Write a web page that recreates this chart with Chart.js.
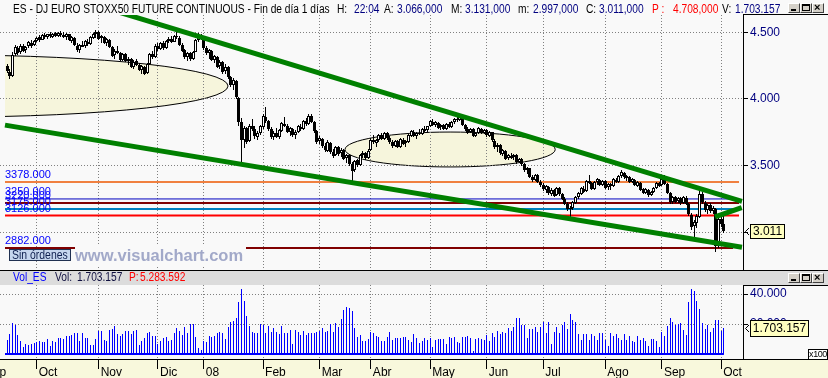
<!DOCTYPE html>
<html lang="es">
<head>
<meta charset="utf-8">
<title>ES - DJ EURO STOXX50 FUTURE CONTINUOUS</title>
<script src="https://cdn.jsdelivr.net/npm/chart.js@4.4.1/dist/chart.umd.min.js"></script>
<style>
  html, body { margin: 0; padding: 0; background: #f9f9f9; }
  #wrap { position: relative; width: 828px; height: 378px; overflow: hidden; background: #f9f9f9;
          font-family: "Liberation Sans", Arial, sans-serif; }
  #wrap canvas { position: absolute; left: 0; }
  .txt { position: absolute; font-size: 12px; line-height: 12px; white-space: nowrap;
         transform: scaleX(0.85); transform-origin: 0 0; color: #000; }
  .navy { color: #000080; }
  .red { color: #ff0000; }
  .blue { color: #0000ff; }
  .line { position: absolute; background: #000; }
  .btn { position: absolute; width: 10px; height: 8px; background: #d4d0c8;
         border: 1px solid; border-color: #ffffff #404040 #404040 #ffffff; }
  .btn i { position: absolute; display: block; }
</style>
</head>
<body>
<div id="wrap">
  <canvas id="price" width="828" height="255" style="top:15px"></canvas>
  <div style="position:absolute;left:0;top:359px;width:828px;height:18px;border-top:1px solid #000;background:#f8f8dc"></div>
  <canvas id="vol" width="828" height="93" style="top:285px"></canvas>

  <!-- cabecera -->
  <div class="txt" style="left:13px;top:3px">ES - DJ EURO STOXX50 FUTURE CONTINUOUS - Fin de día 1 días</div>
  <div class="txt" style="left:337px;top:3px">H:</div><div class="txt navy" style="left:354px;top:3px">22:04</div>
  <div class="txt" style="left:384px;top:3px">A:</div><div class="txt navy" style="left:397px;top:3px">3.066,000</div>
  <div class="txt" style="left:451px;top:3px">M:</div><div class="txt navy" style="left:465px;top:3px">3.131,000</div>
  <div class="txt" style="left:518px;top:3px">m:</div><div class="txt navy" style="left:533px;top:3px">2.997,000</div>
  <div class="txt" style="left:586px;top:3px">C:</div><div class="txt navy" style="left:599px;top:3px">3.011,000</div>
  <div class="txt red" style="left:652px;top:3px">P :</div><div class="txt red" style="left:673px;top:3px">4.708,000</div>
  <div class="txt" style="left:722px;top:3px">V:</div><div class="txt navy" style="left:735px;top:3px">1.703.157</div>

  <div class="btn" style="left:788px;top:3px"><i style="left:2px;top:5px;width:5px;height:2px;background:#000"></i></div>
  <div class="btn" style="left:800px;top:3px"><i style="left:1px;top:0;width:6px;height:4px;border:1px solid #000;border-top-width:2px"></i></div>
  <div class="btn" style="left:812px;top:3px"><i style="left:1px;top:-3px;font:bold 11px 'Liberation Sans';line-height:12px">×</i></div>

  <div class="line" style="left:743px;top:14px;width:85px;height:1px"></div>

  <!-- etiquetas del panel de precios -->
  <div style="position:absolute;left:9px;top:249px;width:60px;height:10px;border:1px solid #203050;background:#c6d6ee"></div>
  <div class="txt" style="left:12px;top:249px;color:#102050;transform:scaleX(0.87)">Sin órdenes</div>
  <div style="position:absolute;left:75px;top:246px;width:171px;height:19px;background:#f9f9f9;color:#a2a9c9;font-weight:bold;font-size:16.5px;line-height:19px;white-space:nowrap">www.visualchart.com</div>

  <!-- panel de volumen -->
  <div class="line" style="left:0;top:270px;width:828px;height:1px"></div>
  <div style="position:absolute;left:0;top:271px;width:828px;height:14px;background:#dcdcdc"></div>
  <div class="txt blue" style="left:13px;top:271px">Vol_ES</div>
  <div class="txt" style="left:55px;top:271px;color:#101040">Vol:</div>
  <div class="txt" style="left:77px;top:271px;color:#101040">1.703.157</div>
  <div class="txt red" style="left:129px;top:271px">P:</div>
  <div class="txt red" style="left:140px;top:271px">5.283.592</div>
  <div class="btn" style="left:788px;top:273px"><i style="left:2px;top:5px;width:5px;height:2px;background:#000"></i></div>
  <div class="btn" style="left:800px;top:273px"><i style="left:1px;top:0;width:6px;height:4px;border:1px solid #000;border-top-width:2px"></i></div>
  <div class="btn" style="left:812px;top:273px"><i style="left:1px;top:-3px;font:bold 11px 'Liberation Sans';line-height:12px">×</i></div>
  <div class="line" style="left:743px;top:285px;width:85px;height:1px"></div>
  <div style="position:absolute;left:808px;top:349px;width:18px;height:9px;border:1px solid #000;background:#fff;font-size:9px;line-height:9px;letter-spacing:-0.4px;text-align:center">x100</div>
</div>

<script>
// meses (índice de la primera sesión de cada mes)
const monthStarts = [-9, 11, 34, 56, 73, 95, 116, 135, 157, 178, 199, 222, 243, 265];
const monthLabels = ['Sep', 'Oct', 'Nov', 'Dic', '08', 'Feb', 'Mar', 'Abr', 'May', 'Jun', 'Jul', 'Ago', 'Sep', 'Oct'];

// sesiones diarias, 14-sep-2007 .. 2-oct-2008 (una fila por mes)
const opens = [
  4250,4205,4175,4338,4385,4352,4398,4365,4395,4420,4402,
  4435,4462,4445,4480,4462,4488,4468,4492,4470,4496,4482,4468,4485,4438,4460,4400,4368,4405,4395,4430,4415,4460,4488,
  4500,4455,4468,4418,4445,4388,4328,4362,4342,4292,4335,4285,4298,4242,4282,4258,4215,4240,4192,4265,4335,4315,
  4395,4372,4420,4382,4435,4448,4430,4470,4460,4405,4365,4315,4342,4300,4355,4442,4475,
  4445,4382,4348,4362,4292,4318,4245,4275,4208,4238,4168,4108,4138,4010,3825,3695,3780,3685,3798,3772,3718,3742,
  3790,3868,3832,3772,3718,3745,3715,3762,3815,3798,3755,3778,3732,3752,3792,3775,3835,3815,3872,3828,3758,
  3682,3702,3648,3612,3672,3600,3578,3638,3592,3618,3555,3578,3512,3465,3540,3508,3580,3592,3558,
  3615,3690,3672,3692,3730,3700,3742,3705,3678,3648,3685,3642,3695,3668,3680,3725,3755,3722,3742,3738,3775,3765,
  3798,3830,3802,3822,3788,3805,3775,3812,3792,3826,3848,3845,3866,3802,3775,3750,3772,3722,3745,3778,3748,
  3765,3725,3750,3688,3642,3655,3590,3612,3555,3575,3562,3580,3528,3548,3512,3470,3480,3418,3395,3430,3380,
  3355,3320,3342,3290,3315,3278,3330,3288,3250,3212,3175,3182,3222,3265,3290,3328,3308,3385,3370,3328,3378,3395,3358,
  3385,3338,3360,3348,3395,3380,3422,3448,3410,3418,3380,3395,3350,3372,3322,3298,3320,3280,3302,3332,3370,
  3352,3395,3360,3292,3228,3262,3232,3255,3222,3260,3212,3132,3045,3072,3118,3288,3222,3168,3202,3160,3175,2900,
  3100,3066
];
const highs = [
  4262,4228,4355,4402,4396,4410,4412,4400,4436,4440,4445,
  4468,4480,4488,4495,4490,4500,4496,4505,4502,4508,4505,4492,4490,4470,4465,4420,4410,4435,4440,4448,4470,4498,4520,
  4508,4478,4475,4458,4452,4398,4372,4398,4350,4348,4345,4315,4305,4290,4300,4268,4255,4248,4270,4345,4362,4410,
  4420,4428,4432,4440,4462,4470,4478,4505,4470,4420,4372,4355,4350,4362,4452,4492,4488,
  4450,4400,4375,4370,4330,4325,4290,4282,4260,4245,4175,4160,4145,4015,3860,3800,3790,3810,3852,3800,3760,3805,
  3885,3942,3845,3790,3760,3780,3775,3830,3868,3812,3790,3785,3765,3805,3815,3845,3860,3890,3885,3835,3770,
  3720,3710,3668,3690,3680,3625,3650,3648,3632,3625,3590,3585,3530,3545,3552,3590,3610,3600,3625,
  3705,3728,3700,3740,3742,3752,3750,3720,3690,3695,3692,3705,3710,3690,3735,3768,3765,3752,3772,3785,3800,3800,
  3842,3848,3835,3830,3815,3812,3822,3825,3835,3858,3872,3885,3872,3815,3790,3782,3780,3755,3790,3785,3775,
  3772,3760,3755,3700,3668,3662,3625,3618,3585,3598,3590,3585,3560,3555,3520,3490,3485,3432,3440,3438,3392,
  3372,3355,3350,3330,3322,3340,3338,3295,3262,3225,3195,3232,3275,3305,3340,3345,3395,3428,3380,3388,3405,3402,3395,
  3392,3370,3368,3405,3410,3432,3468,3455,3428,3422,3405,3400,3385,3378,3332,3330,3325,3310,3342,3380,3378,
  3405,3432,3368,3300,3275,3272,3268,3262,3270,3275,3220,3142,3090,3135,3335,3305,3235,3215,3220,3195,3182,3130,
  3122,3131
];
const lows = [
  4198,4150,4168,4320,4330,4340,4350,4345,4380,4385,4395,
  4425,4430,4440,4452,4448,4460,4455,4465,4462,4468,4460,4440,4432,4420,4398,4350,4345,4388,4385,4400,4405,4450,4460,
  4445,4420,4412,4400,4385,4318,4300,4335,4282,4285,4275,4255,4232,4225,4245,4210,4190,4178,4185,4258,4300,4308,
  4362,4365,4368,4378,4420,4418,4425,4450,4400,4350,4300,4288,4285,4295,4350,4430,4440,
  4370,4330,4300,4282,4270,4230,4222,4190,4185,4150,4090,4070,4000,3795,3505,3630,3660,3675,3760,3700,3690,3730,
  3775,3820,3760,3700,3690,3705,3700,3752,3790,3745,3725,3718,3700,3745,3762,3768,3800,3808,3820,3745,3665,
  3660,3630,3600,3605,3590,3560,3570,3575,3565,3540,3520,3500,3378,3450,3490,3500,3560,3540,3550,
  3608,3665,3638,3680,3690,3692,3695,3665,3632,3640,3630,3635,3658,3640,3672,3712,3718,3700,3728,3730,3752,3755,
  3790,3795,3790,3775,3770,3765,3768,3782,3785,3815,3830,3835,3795,3760,3735,3742,3712,3712,3738,3735,3738,
  3718,3712,3680,3628,3605,3580,3575,3545,3540,3550,3540,3515,3518,3500,3455,3440,3405,3380,3385,3368,3340,
  3310,3295,3280,3270,3262,3270,3275,3240,3205,3160,3107,3170,3215,3250,3282,3295,3300,3362,3315,3320,3355,3345,3350,
  3325,3318,3320,3340,3370,3372,3410,3400,3385,3368,3372,3345,3342,3312,3285,3290,3265,3270,3295,3325,3340,
  3345,3352,3285,3215,3212,3218,3220,3208,3212,3205,3120,3020,2955,3030,3110,3210,3150,3140,3145,3140,2855,2880,
  3040,2997
];
const closes = [
  4210,4172,4330,4390,4348,4400,4362,4392,4425,4400,4438,
  4460,4442,4478,4465,4485,4470,4490,4475,4498,4480,4465,4488,4440,4462,4405,4365,4402,4392,4432,4412,4462,4485,4505,
  4452,4470,4420,4448,4392,4325,4360,4345,4290,4338,4282,4300,4240,4280,4255,4218,4245,4190,4262,4338,4312,4398,
  4375,4418,4380,4432,4450,4428,4472,4462,4408,4362,4318,4345,4298,4352,4440,4478,4448,
  4385,4345,4365,4295,4320,4242,4278,4205,4240,4165,4105,4140,4012,3830,3690,3785,3680,3800,3775,3720,3745,3795,
  3870,3835,3775,3715,3748,3712,3765,3818,3800,3752,3780,3730,3755,3795,3772,3838,3812,3875,3830,3760,3680,
  3705,3645,3615,3675,3602,3575,3640,3590,3620,3552,3580,3515,3462,3538,3505,3578,3595,3555,3612,
  3692,3675,3690,3732,3702,3745,3708,3680,3645,3688,3640,3698,3665,3682,3728,3758,3725,3745,3735,3778,3762,3795,
  3832,3805,3825,3785,3808,3772,3815,3790,3828,3850,3842,3870,3805,3772,3748,3775,3725,3748,3780,3745,3768,
  3728,3752,3690,3640,3658,3592,3615,3552,3578,3560,3582,3525,3550,3510,3468,3482,3415,3392,3432,3378,3352,
  3322,3345,3292,3318,3275,3332,3285,3252,3215,3172,3185,3225,3268,3292,3330,3305,3388,3372,3325,3380,3398,3355,3388,
  3335,3362,3345,3398,3378,3425,3450,3412,3420,3378,3398,3352,3375,3320,3295,3322,3278,3305,3335,3372,3350,
  3398,3362,3295,3225,3265,3230,3258,3220,3262,3215,3135,3040,3075,3120,3290,3225,3165,3205,3158,3180,2895,3100,
  3066,3011
];
// volumen en unidades x100
const volumes = [
  9600,13300,20600,19100,12900,8500,4500,6900,5900,6500,7300,
  8100,8900,8200,7800,9800,5300,8700,8200,10900,10500,9800,12000,12000,12700,14200,14200,8700,13800,10500,10500,6000,6000,9800,
  15300,15300,9300,8700,16000,16500,18900,13100,12000,13100,15300,15300,13300,15500,16000,6000,8700,10500,13800,14900,12200,12200,
  6700,8700,10500,11100,8700,9300,14200,17500,15300,12700,17800,13800,19800,20000,11500,3800,2700,
  8700,8200,12000,11500,12200,13800,14900,14200,9800,17800,21500,22200,24200,34900,43100,35300,25300,18700,14500,14200,14200,19800,
  19300,14200,18900,14900,17100,14500,13100,18900,14200,14200,16000,6700,16000,14900,12700,15300,12700,14200,13800,13800,14900,
  15300,17100,14500,15300,19800,14900,20500,18200,23300,29300,31500,30500,28700,17100,11500,12700,8700,8700,9800,
  14900,14200,12200,11500,8700,8700,11500,14500,9300,10900,10900,10900,11500,11500,9300,8200,13300,10500,7100,8900,10900,9300,
  10900,4500,9300,9800,9800,9800,6700,11100,10500,11500,8200,7100,11500,11500,12000,10500,2000,10000,10900,9800,9300,
  12700,8900,13800,11500,15300,13100,14500,13800,17100,15300,18200,24200,24200,19300,19300,10500,16500,16500,18200,14900,17800,
  21500,13800,21100,6700,14900,17800,14200,19300,21100,16700,26500,22700,21500,13300,9300,13300,13300,9300,13100,12200,9300,13800,14200,
  9300,5500,13800,12200,13300,10900,9300,13300,9300,12200,8900,7800,12200,9300,10900,8700,5500,10000,10000,8700,4900,
  14900,12200,18700,24200,21100,19300,19800,20500,16000,12700,34900,43300,42000,35300,30000,20500,16700,19300,14900,17100,22700,22700,
  15300,17031.57
];

const priceTicks = [3000, 3500, 4000, 4500];
const volumeTicks = [20000, 40000];

// niveles horizontales
const levelValues = [3378, 3250, 3220, 3175, 3126, 2882];
// líneas de tendencia [sesión, precio]
const trendUpper = [[34.5, 4694], [272.7, 3232]];
const trendLower = [[-0.76, 3804], [272.7, 2888]];
const trendShort = [[262.7, 3115], [272.6, 3185]];

// estilos
const levelStyle = [
  { color: '#f08040', width: 2, to: 271.6 },
  { color: '#0000c0', width: 1, to: 271.6 },
  { color: '#800000', width: 2, to: 271.6 },
  { color: '#0080c0', width: 2, to: 271.6 },
  { color: '#ff0000', width: 2, to: 271.6 },
  { color: '#800000', width: 2, to: 269.4 }
];
const LEVEL_FROM = -0.76;
const ellipses = [
  { x: -21.2, y: 4097, rx: 103.2, ry: 232.5 },
  { x: 164.4, y: 3621, rx: 39, ry: 131 }
];
const X_MIN = -2.616, X_MAX = 273.08;
const GRID = '#808080';

Chart.defaults.font.family = '"Liberation Sans", Arial, sans-serif';
Chart.defaults.font.size = 12;
Chart.defaults.animation = false;

const days = closes.map((c, i) => i);
const dotted = n => String(Math.round(n)).replace(/\B(?=(\d{3})+(?!\d))/g, '.');

function monthAxis(labels) {
  return {
    type: 'linear', min: X_MIN, max: X_MAX, bounds: 'data', offset: false,
    afterBuildTicks: s => { s.ticks = monthStarts.map(v => ({ value: v })); },
    afterFit: s => { s.height = labels ? 19 : 0; s.paddingLeft = 0; s.paddingRight = 0; },
    grid: { offset: false, color: GRID, lineWidth: 1, drawTicks: labels, tickLength: 10, tickColor: '#000', tickWidth: 1, tickBorderDash: [] },
    border: { display: labels, color: '#000', width: 1, dash: [1, 2] },
    ticks: {
      display: labels, autoSkip: false, maxRotation: 0, minRotation: 0, align: 'start',
      labelOffset: 2, padding: -3.5, color: '#000',
      callback: v => monthLabels[monthStarts.indexOf(v)]
    }
  };
}

function valueAxis(min, max, ticks) {
  return {
    type: 'linear', position: 'right', min, max, bounds: 'data',
    afterBuildTicks: s => { s.ticks = ticks.map(v => ({ value: v })); },
    afterFit: s => { s.width = 85; s.paddingTop = 0; s.paddingBottom = 0; },
    grid: { color: GRID, lineWidth: 1, drawTicks: true, tickLength: 5, tickColor: '#000', tickWidth: 1, tickBorderDash: [] },
    border: { display: true, color: '#000', width: 1, dash: [1, 2] },
    ticks: { padding: 2, color: '#000080', callback: v => dotted(v) }
  };
}

// las barras se ajustan a píxeles enteros, como el gráfico original
const snapBars = {
  id: 'snapBars',
  beforeDatasetsDraw(chart) {
    chart.getSortedVisibleDatasetMetas().forEach(meta => {
      if (meta.type !== 'bar') return;
      meta.data.forEach(el => {
        el.width = Math.max(1, Math.round(el.width));
        el.x = Math.floor(el.x) + 0.5;
        el.y = Math.round(el.y);
        el.base = Math.round(el.base);
      });
    });
  }
};

const ellipsePlugin = {
  id: 'ellipses',
  beforeDraw(chart) {
    const { ctx, chartArea: a, scales: { x, y } } = chart;
    ctx.save();
    ctx.beginPath();
    ctx.rect(a.left + 5, a.top, a.right - a.left - 5, a.bottom - a.top);
    ctx.clip();
    ellipses.forEach(e => {
      const cx = x.getPixelForValue(e.x), cy = y.getPixelForValue(e.y);
      const rx = x.getPixelForValue(e.x + e.rx) - cx;
      const ry = cy - y.getPixelForValue(e.y + e.ry);
      ctx.beginPath();
      ctx.ellipse(cx, cy, rx, ry, 0, 0, Math.PI * 2);
      ctx.fillStyle = '#f6f5dc';
      ctx.fill();
      ctx.lineWidth = 1;
      ctx.strokeStyle = '#000';
      ctx.stroke();
    });
    ctx.restore();
  }
};

const levelLabels = {
  id: 'levelLabels',
  afterDatasetsDraw(chart) {
    const { ctx, chartArea: a, scales: { y } } = chart;
    ctx.save();
    ctx.font = '11px "Liberation Sans", Arial, sans-serif';
    ctx.fillStyle = '#0000ff';
    ctx.textBaseline = 'alphabetic';
    levelValues.forEach(v => {
      ctx.fillText(v.toFixed(3), a.left + 5, Math.round(y.getPixelForValue(v)) - 4);
    });
    ctx.restore();
  }
};

// recuadro amarillo con el último valor
function lastValueBox(value, text, w, h) {
  return {
    id: 'lastValueBox',
    afterDraw(chart) {
      const { ctx, chartArea: a, scales: { y } } = chart;
      const cy = Math.round(y.getPixelForValue(value));
      const left = a.right + 7.5, top = cy - h / 2 + 0.5;
      ctx.save();
      ctx.strokeStyle = '#000';
      ctx.lineWidth = 1;
      ctx.beginPath();
      ctx.moveTo(a.right + 6, cy - 3);
      ctx.lineTo(a.right + 2.5, cy + 0.5);
      ctx.lineTo(a.right + 6, cy + 4);
      ctx.stroke();
      ctx.fillStyle = '#ffffc0';
      ctx.fillRect(left, top, w, h);
      ctx.strokeRect(left, top, w, h);
      ctx.fillStyle = '#000';
      ctx.font = '12px "Liberation Sans", Arial, sans-serif';
      ctx.textAlign = 'center';
      ctx.textBaseline = 'middle';
      ctx.fillText(text, left + w / 2, cy + 1);
      ctx.restore();
    }
  };
}

const baseOptions = {
  responsive: false,
  maintainAspectRatio: false,
  devicePixelRatio: 1,
  events: [],
  layout: { padding: 0 },
  plugins: { legend: { display: false }, tooltip: { enabled: false } }
};

const lastClose = closes[closes.length - 1];
const lastVol = volumes[volumes.length - 1];

new Chart(document.getElementById('price'), {
  type: 'bar',
  data: {
    datasets: [
      ...levelValues.map((v, k) => ({
        type: 'line',
        data: [{ x: LEVEL_FROM, y: v }, { x: levelStyle[k].to, y: v }],
        borderColor: levelStyle[k].color, borderWidth: levelStyle[k].width,
        pointRadius: 0, order: 10, clip: 0
      })),
      {
        type: 'bar',
        data: days.map(i => ({ x: i, y: [lows[i], highs[i]] })),
        backgroundColor: '#000', maxBarThickness: 1, barPercentage: 1, categoryPercentage: 1,
        grouped: false, inflateAmount: 0, order: 6
      },
      {
        type: 'bar',
        data: days.map(i => ({ x: i, y: [opens[i], closes[i]] })),
        backgroundColor: days.map(i => closes[i] >= opens[i] ? '#ffffff' : '#000000'),
        borderColor: '#000', borderWidth: 1, borderSkipped: false,
        maxBarThickness: 3, barPercentage: 1, categoryPercentage: 1,
        grouped: false, inflateAmount: 0, order: 5
      },
      ...[trendUpper, trendLower, trendShort].map(t => ({
        type: 'line',
        data: t.map(p => ({ x: p[0], y: p[1] })),
        borderColor: '#008000', borderWidth: 5, pointRadius: 0, order: 1, clip: 0
      }))
    ]
  },
  options: {
    ...baseOptions,
    scales: { x: monthAxis(false), y: valueAxis(2717.25, 4629.75, priceTicks) }
  },
  plugins: [ellipsePlugin, snapBars, levelLabels, lastValueBox(lastClose, dotted(lastClose), 34, 14)]
});

new Chart(document.getElementById('vol'), {
  type: 'bar',
  data: {
    datasets: [
      {
        type: 'line',
        data: [{ x: LEVEL_FROM, y: 0 }, { x: days.length - 1, y: 0 }],
        borderColor: '#0000ff', borderWidth: 2, pointRadius: 0, order: 1, clip: 0
      },
      {
        type: 'bar',
        data: days.map(i => ({ x: i, y: volumes[i] })),
        backgroundColor: '#0000ff', maxBarThickness: 1, barPercentage: 1, categoryPercentage: 1,
        grouped: false, inflateAmount: 0, order: 2
      }
    ]
  },
  options: {
    ...baseOptions,
    scales: { x: monthAxis(true), y: valueAxis(-3333.33, 46000, volumeTicks) }
  },
  plugins: [snapBars, lastValueBox(lastVol, dotted(lastVol * 100), 58, 16)]
});
</script>
</body>
</html>
